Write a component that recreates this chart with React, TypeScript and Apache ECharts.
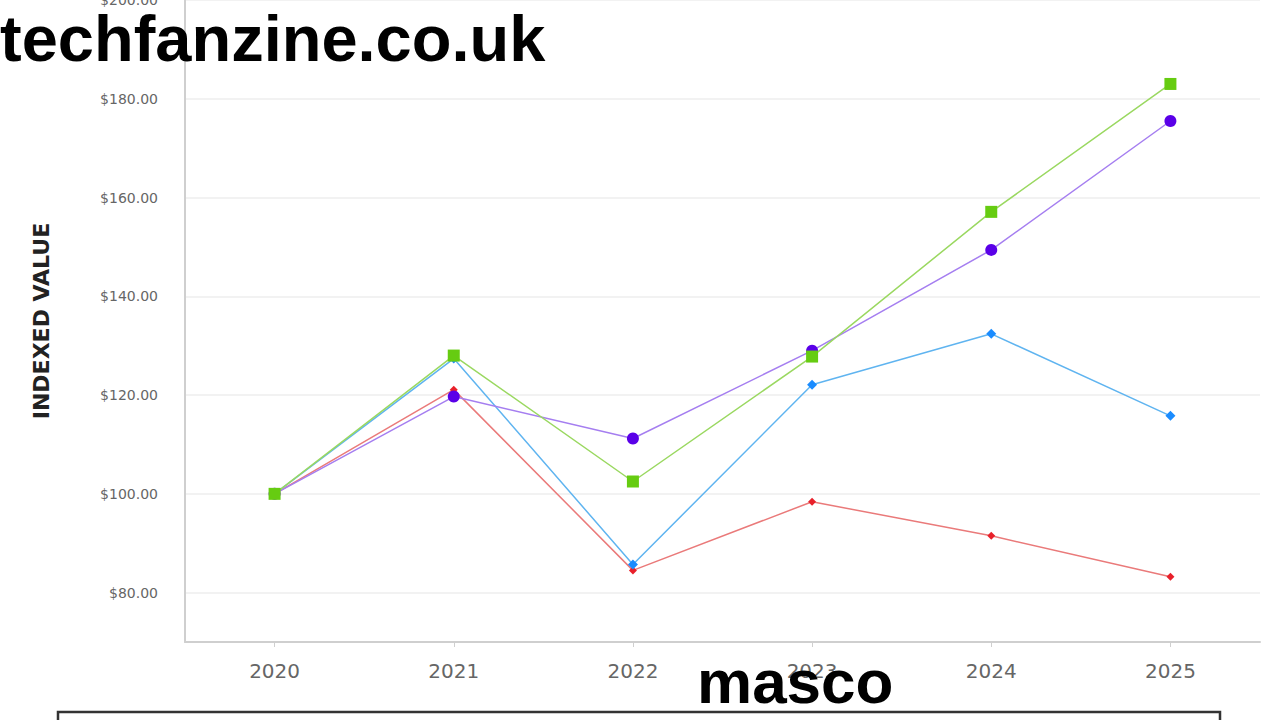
import React, { useEffect, useRef } from "react";
import * as echarts from "echarts";

const years = ["2020", "2021", "2022", "2023", "2024", "2025"];
const greenValues = [100, 128, 102.5, 127.8, 157.1, 183];
const purpleValues = [100, 119.7, 111.2, 129, 149.4, 175.5];
const blueValues = [100, 127.4, 85.7, 122.1, 132.4, 115.8];
const redValues = [100, 121.1, 84.5, 98.4, 91.5, 83.2];
const yTickValues = [80, 100, 120, 140, 160, 180, 200];

export default function App() {
  const ref = useRef<HTMLDivElement>(null);
  useEffect(() => {
    if (!ref.current) return;
    const chart = echarts.init(ref.current, undefined, { renderer: "svg" });
    const mk = (name: string, data: number[], line: string, marker: string, symbol: string, size: number) => ({
      name,
      type: "line",
      data,
      symbol,
      symbolSize: size,
      lineStyle: { color: line, width: 1.5 },
      itemStyle: { color: marker },
      z: 3,
    });
    chart.setOption({
      animation: false,
      backgroundColor: "#ffffff",
      grid: { left: 185, right: 20, top: 0, bottom: 78, containLabel: false, outerBoundsMode: "none" },
      xAxis: {
        type: "category",
        data: years,
        boundaryGap: true,
        axisLine: { lineStyle: { color: "#cfcfcf", width: 2 } },
        axisTick: { show: true, alignWithLabel: true, length: 5, lineStyle: { color: "#cfcfcf" } },
        axisLabel: { color: "#666", fontFamily: "DejaVu Sans", fontSize: 20, margin: 19 },
        splitLine: { show: false },
      },
      yAxis: {
        type: "value",
        min: 70,
        max: 200,
        name: "INDEXED VALUE",
        nameLocation: "middle",
        nameGap: 133,
        nameRotate: 90,
        nameTextStyle: { color: "#222", fontFamily: "DejaVu Sans", fontWeight: "bold", fontSize: 22 },
        axisLine: { show: true, lineStyle: { color: "#cfcfcf", width: 2 } },
        axisTick: { show: false, customValues: yTickValues },
        axisLabel: {
          customValues: yTickValues,
          color: "#666",
          fontFamily: "DejaVu Sans",
          fontSize: 14,
          margin: 27,
          formatter: (v: number) => "$" + v.toFixed(2),
        },
        splitLine: { show: true, lineStyle: { color: "#eeeeee", width: 1.5 } },
      },
      series: [
        mk("Red", redValues, "#ea7a7a", "#e8202a", "diamond", 8),
        mk("Blue", blueValues, "#5fb4f0", "#1a8cff", "diamond", 10),
        mk("Purple", purpleValues, "#a57ef0", "#5a00e8", "circle", 12),
        mk("Green", greenValues, "#9ad860", "#66cc11", "rect", 12),
      ],
      graphic: [
        {
          type: "text",
          z: 100,
          x: 0,
          y: 38,
          style: {
            text: "techfanzine.co.uk",
            fill: "#000",
            fontFamily: "Liberation Sans",
            fontWeight: "bold",
            fontSize: 65,
            verticalAlign: "middle",
          },
        },
        {
          type: "text",
          z: 100,
          x: 697,
          y: 681,
          style: {
            text: "masco",
            fill: "#000",
            fontFamily: "Liberation Sans",
            fontWeight: "bold",
            fontSize: 62,
            verticalAlign: "middle",
          },
        },
        {
          type: "rect",
          z: 100,
          shape: { x: 58, y: 712, width: 1162, height: 40 },
          style: { fill: "none", stroke: "#333", lineWidth: 2.5 },
        },
      ],
    });
    return () => chart.dispose();
  }, []);
  return <div ref={ref} style={{ width: 1280, height: 720, position: "absolute", left: 0, top: 0 }} />;
}
